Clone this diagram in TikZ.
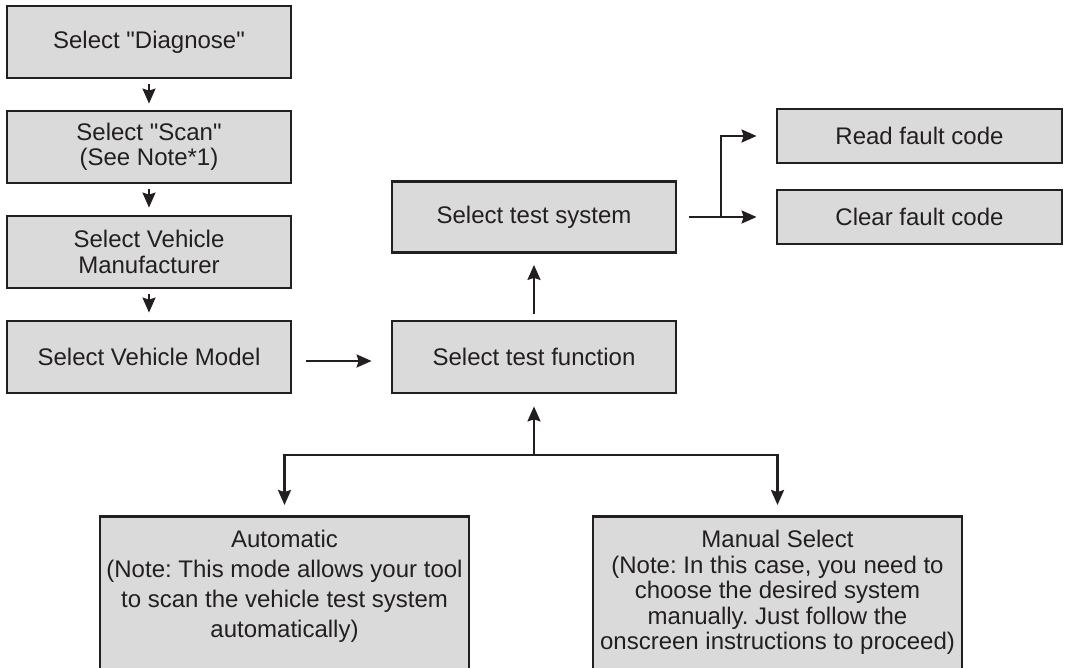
\documentclass[tikz,border=0pt]{standalone}
\usepackage{fontspec}
\setmainfont{Liberation Sans}
\usepackage{xcolor}
\usepackage{tikz}
\usetikzlibrary{calc}
\usetikzlibrary{arrows.meta}
\usetikzlibrary{positioning}
\definecolor{boxgray}{RGB}{218,218,218}
\definecolor{ink}{RGB}{35,31,32}
\frenchspacing
\tikzstyle{stepbox} = [rectangle, draw=ink, fill=boxgray, line width=2.8pt, minimum width=284pt, minimum height=72pt, inner sep=0pt, align=center, text=ink, font={\fontsize{24}{25.5}\selectfont}]
\tikzstyle{codebox} = [stepbox, minimum width=285pt, minimum height=54pt]
\tikzstyle{notebox} = [stepbox, minimum width=369pt, anchor=north, inner ysep=14pt]
\tikzstyle{flow} = [-{Stealth[length=15pt, width=13pt, inset=2pt]}, draw=ink, line width=2.3pt]

\begin{document}
\begin{tikzpicture}[x=1pt, y=-1pt]
\useasboundingbox (0, 0) rectangle (1065, 667);
% left column
\node [stepbox] (diag) at (149, 42) {Select \textquotedbl Diagnose\textquotedbl};
\node [stepbox] (scan) at (149, 147) {Select \textquotedbl Scan\textquotedbl\\(See Note*1)};
\node [stepbox] (maker) at (149, 252) {Select Vehicle\\Manufacturer};
\node [stepbox] (model) at (149, 357) {Select Vehicle Model};
% middle and right
\node [stepbox] (func) at (534, 357) {Select test function};
\node [stepbox, minimum height=71pt] (sys) at (534, 217) {Select test system};
\node [codebox] (read) at (919.5, 136) {Read fault code};
\node [codebox] (clear) at (919.5, 217) {Clear fault code};
% modes
\node [notebox] (auto) at (284.5, 515) {\parbox[t][129pt][t]{366pt}{\centering\fontsize{24}{30}\selectfont Automatic\\(Note: This mode allows your tool\\to scan the vehicle test system\\automatically)}};
\node [notebox] (manual) at (777.5, 515) {\parbox[t][129pt][t]{366pt}{\centering Manual Select\\(Note: In this case, you need to\\choose the desired system\\manually. Just follow the\\onscreen instructions to proceed)}};
\coordinate (fork) at (721, 218.15);
\coordinate (split) at (534, 455);

\draw [flow, shorten <=5pt, shorten >=6pt] (diag) to (scan);
\draw [flow, shorten <=5pt, shorten >=7pt] (scan) to (maker);
\draw [flow, shorten <=5pt, shorten >=7pt] (maker) to (model);
\draw [flow, shorten <=14pt, shorten >=19pt] ([yshift=-4pt]model.east) to ([yshift=-4pt]func.west);
\draw [flow, shorten <=6pt, shorten >=11pt] (func) to (sys);
\draw [flow, shorten <=12pt, shorten >=19pt] (sys.east) to (clear.west);
\draw [flow, shorten >=19pt] (fork) |- (read.west);
\draw [flow, shorten >=12pt] (split) to (func);
\draw [flow, shorten >=10pt] (split) -| (auto.north);
\draw [flow, shorten >=10pt] (split) -| (manual.north);
\end{tikzpicture}
\end{document}
